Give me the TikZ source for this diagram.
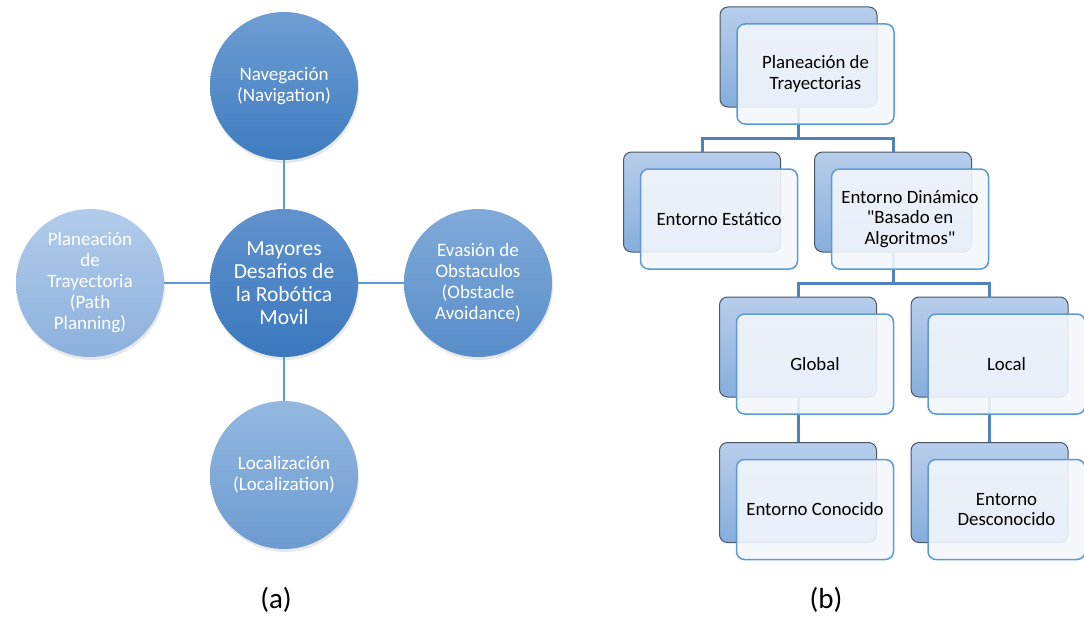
\documentclass[tikz,border=0pt]{standalone}
\usepackage{fontspec}
\setmainfont{Carlito}[Ligatures=TeXOff]
\usetikzlibrary{shadows}

\definecolor{spoke}{HTML}{5B9BD5}
\definecolor{tree}{HTML}{4F81BD}
\definecolor{edgeblue}{HTML}{5B9BD5}
\definecolor{backline}{HTML}{4A5662}
\definecolor{paper}{HTML}{F3F6FB}
\definecolor{cardtop}{HTML}{B7CEEC}
\definecolor{cardbot}{HTML}{86ADDC}
\definecolor{navT}{HTML}{6E9DD2}
\definecolor{navB}{HTML}{3E7CC0}
\definecolor{ctrT}{HTML}{6192CD}
\definecolor{ctrB}{HTML}{3A78BE}
\definecolor{obsT}{HTML}{80AAD9}
\definecolor{obsB}{HTML}{588DC9}
\definecolor{locT}{HTML}{94B8E0}
\definecolor{locB}{HTML}{6C9BD1}
\definecolor{ppT}{HTML}{B2CCEB}
\definecolor{ppB}{HTML}{8CB0DC}

\begin{document}
\begin{tikzpicture}[x=1pt,y=-1pt,
  spokeline/.style={draw=spoke, line width=2pt},
  treeline/.style={draw=tree, line width=3pt},
  disc/.style={circle, minimum size=148pt, inner sep=0pt, align=center,
    text=white, font=\fontsize{19}{21}\selectfont,
    drop shadow={opacity=0.18, shadow xshift=1pt, shadow yshift=-3pt}},
  backbox/.style={rounded corners=8pt, draw=backline, line width=1pt,
    top color=cardtop, bottom color=cardbot,
    minimum width=157pt, minimum height=100pt, inner sep=0pt},
  frontbox/.style={rounded corners=8pt, draw=edgeblue, line width=1.5pt,
    fill=paper, fill opacity=0.9, text opacity=1,
    minimum width=157pt, minimum height=100pt, inner sep=2pt, align=center,
    font=\fontsize{18.8}{20.5}\selectfont},
  caption/.style={font=\fontsize{29}{32}\selectfont}
]
\useasboundingbox (0,0) rectangle (1084,618);

% ---------- (a) radial diagram ----------
\node[disc, top color=navT, bottom color=navB] (nav) at (284,86) {Navegación\\(Navigation)};
\node[disc, top color=ctrT, bottom color=ctrB, font=\fontsize{21.5}{23}\selectfont]
  (ctr) at (284,283) {Mayores\\Desafios de\\la Robótica\\Movil};
\node[disc, top color=obsT, bottom color=obsB] (obs) at (478,283) {Evasión de\\Obstaculos\\(Obstacle\\Avoidance)};
\node[disc, top color=locT, bottom color=locB] (loc) at (284,475) {Localización\\(Localization)};
\node[disc, top color=ppT, bottom color=ppB] (pp) at (90,283) {Planeación\\de\\Trayectoria\\(Path\\Planning)};

\draw[spokeline] (nav) -- (ctr);
\draw[spokeline] (ctr) -- (obs);
\draw[spokeline] (ctr) -- (loc);
\draw[spokeline] (ctr) -- (pp);

\node[caption] (capa) at (276,600) {(a)};

% ---------- (b) hierarchy ----------
% back cards
\node[backbox] (topB) at (798.5,57) {};
\node[backbox] (estB) at (702,202) {};
\node[backbox] (dinB) at (893,202) {};
\node[backbox] (gloB) at (798,347) {};
\node[backbox] (locB) at (989.5,347) {};
\node[backbox] (conB) at (798,492.5) {};
\node[backbox] (desB) at (989.5,492.5) {};

% connectors between cards
\coordinate (busA) at (0,138);
\coordinate (busB) at (0,283);
\draw[treeline] (topB.south) -- (topB.south |- busA) -| (estB.north);
\draw[treeline] (topB.south |- busA) -| (dinB.north);
\draw[treeline] (dinB.south) -- (dinB.south |- busB) -| (gloB.north);
\draw[treeline] (dinB.south |- busB) -| (locB.north);
\draw[treeline] (gloB.south) -- (conB.north);
\draw[treeline] (locB.south) -- (desB.north);

% front cards with text
\node[frontbox] (topF) at (815.5,74) {Planeación de\\Trayectorias};
\node[frontbox] (estF) at (719,219) {Entorno Estático};
\node[frontbox] (dinF) at (910,219) {Entorno Dinámico\\"Basado en\\Algoritmos"};
\node[frontbox] (gloF) at (815,364) {Global};
\node[frontbox] (locF) at (1006.5,364) {Local};
\node[frontbox] (conF) at (815,509.5) {Entorno Conocido};
\node[frontbox] (desF) at (1006.5,509.5) {Entorno\\Desconocido};

\node[caption] (capb) at (826,600) {(b)};
\end{tikzpicture}
\end{document}
